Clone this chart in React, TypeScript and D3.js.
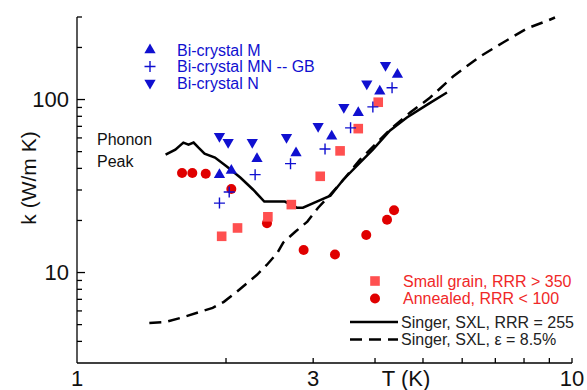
import React, { useEffect, useRef } from "react";
import * as d3 from "d3";

// --- data (T in K, k in W/m K) ---
const biM_T = [1.94, 2.05, 2.31, 2.77, 3.27, 3.7, 4.09, 4.44];
const biM_k = [36.8, 38.9, 45.5, 49.1, 61.3, 83.8, 111.7, 139.6];

const biMN_T = [1.94, 2.03, 2.29, 2.7, 3.17, 3.57, 3.96, 4.33];
const biMN_k = [25.2, 29.2, 36.8, 42.6, 51.8, 68.6, 90.7, 117];

const biN_T = [1.94, 2.02, 2.26, 2.65, 3.07, 3.46, 3.85, 4.2];
const biN_k = [61.3, 56.6, 56.6, 60.5, 70.0, 90.2, 123.3, 158];

const smallGrain_T = [1.96, 2.11, 2.43, 2.71, 3.1, 3.4, 3.7, 4.06];
const smallGrain_k = [16.2, 18.1, 21.0, 24.7, 36.0, 50.5, 67.9, 96.5];

const annealed_T = [1.63, 1.71, 1.82, 2.05, 2.42, 2.87, 3.32, 3.84, 4.23, 4.37];
const annealed_k = [37.6, 37.6, 37.2, 30.4, 19.3, 13.5, 12.7, 16.5, 20.2, 22.9];

const singerRRR_T = [
  1.51, 1.58, 1.64, 1.68, 1.72, 1.76, 1.81, 1.9, 2.01, 2.14, 2.27, 2.39, 2.63,
  2.78, 2.86, 3.05, 3.25, 3.45, 3.73, 3.96, 4.29, 4.64, 5.1, 5.59,
];
const singerRRR_k = [
  48.0, 51.3, 56.4, 54.9, 56.4, 52.7, 48.7, 46.2, 40.9, 35.3, 30.1, 25.7, 25.7,
  23.7, 23.7, 25.7, 27.8, 34.4, 43.2, 51.3, 66.2, 78.7, 93.5, 109.8,
];

const singerStrain_T = [
  1.4, 1.51, 1.62, 1.77, 1.88, 1.98, 2.09, 2.21, 2.31, 2.42, 2.54, 2.61, 2.76,
  2.92, 3.07, 3.25, 3.48, 3.73, 4.0, 4.29, 4.71, 5.17, 5.75, 6.52, 7.26, 8.11,
  8.95, 9.24,
];
const singerStrain_k = [
  5.11, 5.18, 5.47, 5.92, 6.25, 6.77, 7.63, 8.72, 9.7, 11.1, 13.0, 14.9, 17.2,
  19.7, 23.7, 28.2, 35.3, 44.9, 54.9, 67.1, 84.1, 102.7, 135.9, 177.4, 213.8,
  257.7, 286.7, 298,
];

const xMajorTicks = [1, 3, 10];
const xMinorTicks = [2, 4, 5, 6, 7, 8, 9];
const yMajorTicks = [10, 100];
const yMinorTicks = [4, 5, 6, 7, 8, 9, 20, 30, 40, 50, 60, 70, 80, 90, 200, 300];

const FONT = "'Liberation Sans', Arial, Helvetica, sans-serif";
const BLUE = "#1010d0";
const SQUARE_RED = "#ff5050";
const CIRCLE_RED = "#e00000";

const zip = (xs: number[], ys: number[]) => xs.map((x, i) => [x, ys[i]] as [number, number]);

const App: React.FC = () => {
  const svgRef = useRef<SVGSVGElement | null>(null);

  useEffect(() => {
    if (!svgRef.current) return;
    const width = 587;
    const height = 390;

    const svg = d3.select(svgRef.current);
    svg.selectAll("*").remove();
    svg.attr("width", width).attr("height", height);

    const x = d3.scaleLog().domain([1, 10]).range([77, 572]);
    const y = d3.scaleLog().domain([3, 300]).range([363, 17]);

    const [x0, x1] = x.range();
    const [y0, y1] = y.range();

    // --- axes ---
    const axes = svg.append("g").attr("stroke", "#000").attr("stroke-width", 1.3);
    axes.append("line").attr("x1", x0).attr("x2", x1).attr("y1", y0).attr("y2", y0);
    axes.append("line").attr("x1", x0).attr("x2", x0).attr("y1", y0).attr("y2", y1);

    xMajorTicks.concat(xMinorTicks).filter((t) => t !== 1).forEach((t) => {
      axes.append("line").attr("x1", x(t)).attr("x2", x(t)).attr("y1", y0).attr("y2", y0 - 5);
    });
    yMajorTicks.forEach((t) => {
      axes.append("line").attr("x1", x0).attr("x2", x0 + 8).attr("y1", y(t)).attr("y2", y(t));
    });
    yMinorTicks.forEach((t) => {
      axes.append("line").attr("x1", x0).attr("x2", x0 + 5).attr("y1", y(t)).attr("y2", y(t));
    });

    const labels = svg.append("g").style("font-family", FONT).attr("fill", "#111");
    xMajorTicks.forEach((t) => {
      labels.append("text").attr("x", x(t)).attr("y", 386).attr("text-anchor", "middle")
        .style("font-size", "22px").text(t);
    });
    yMajorTicks.forEach((t) => {
      labels.append("text").attr("x", 69).attr("y", y(t)).attr("dy", "0.36em")
        .attr("text-anchor", "end").style("font-size", "22px").text(t);
    });
    labels.append("text").attr("x", 406).attr("y", 386).attr("text-anchor", "middle")
      .style("font-size", "22px").text("T (K)");
    labels.append("text").attr("transform", "translate(36,178) rotate(-90)")
      .attr("text-anchor", "middle").style("font-size", "21px").text("k (W/m K)");

    labels.append("text").attr("x", 97).attr("y", 145).style("font-size", "16px").text("Phonon");
    labels.append("text").attr("x", 97).attr("y", 167).style("font-size", "16px").text("Peak");

    // --- lines ---
    const line = d3.line<[number, number]>().x((d) => x(d[0])).y((d) => y(d[1]));
    svg.append("path").datum(zip(singerStrain_T, singerStrain_k)).attr("d", line)
      .attr("fill", "none").attr("stroke", "#000").attr("stroke-width", 2.5)
      .attr("stroke-dasharray", "12,7");
    svg.append("path").datum(zip(singerRRR_T, singerRRR_k)).attr("d", line)
      .attr("fill", "none").attr("stroke", "#000").attr("stroke-width", 2.5);

    // --- markers ---
    const up = d3.symbol().type(d3.symbolTriangle).size(55)();
    const plusPath = "M-5.5,0H5.5M0,-5.5V5.5";

    const drawUp = (g: any, cx: number, cy: number) =>
      g.append("path").attr("d", up).attr("transform", `translate(${cx},${cy})`).attr("fill", BLUE);
    const drawDown = (g: any, cx: number, cy: number) =>
      g.append("path").attr("d", up).attr("transform", `translate(${cx},${cy}) rotate(180)`).attr("fill", BLUE);
    const drawPlus = (g: any, cx: number, cy: number) =>
      g.append("path").attr("d", plusPath).attr("transform", `translate(${cx},${cy})`)
        .attr("stroke", BLUE).attr("stroke-width", 1.4).attr("fill", "none");
    const drawSquare = (g: any, cx: number, cy: number) =>
      g.append("rect").attr("x", cx - 4.8).attr("y", cy - 4.8).attr("width", 9.6).attr("height", 9.6)
        .attr("fill", SQUARE_RED);
    const drawCircle = (g: any, cx: number, cy: number) =>
      g.append("circle").attr("cx", cx).attr("cy", cy).attr("r", 5).attr("fill", CIRCLE_RED);

    const pts = svg.append("g");
    zip(annealed_T, annealed_k).forEach(([t, k]) => drawCircle(pts, x(t), y(k)));
    zip(smallGrain_T, smallGrain_k).forEach(([t, k]) => drawSquare(pts, x(t), y(k)));
    zip(biM_T, biM_k).forEach(([t, k]) => drawUp(pts, x(t), y(k)));
    zip(biN_T, biN_k).forEach(([t, k]) => drawDown(pts, x(t), y(k)));
    zip(biMN_T, biMN_k).forEach(([t, k]) => drawPlus(pts, x(t), y(k)));

    // --- legends ---
    const leg = svg.append("g").style("font-family", FONT).style("font-size", "16px");
    const blueItems = [
      { label: "Bi-crystal M", draw: drawUp },
      { label: "Bi-crystal MN -- GB", draw: drawPlus },
      { label: "Bi-crystal N", draw: drawDown },
    ];
    blueItems.forEach((it, i) => {
      const cy = 50 + i * 16.5;
      it.draw(leg, 150, cy);
      leg.append("text").attr("x", 177).attr("y", cy).attr("dy", "0.35em")
        .attr("fill", BLUE).text(it.label);
    });

    const redItems = [
      { label: "Small grain, RRR > 350", draw: drawSquare },
      { label: "Annealed, RRR < 100", draw: drawCircle },
    ];
    redItems.forEach((it, i) => {
      const cy = 281 + i * 17.5;
      it.draw(leg, 375, cy);
      leg.append("text").attr("x", 403).attr("y", cy).attr("dy", "0.35em")
        .attr("fill", "#f02828").text(it.label);
    });

    const lineItems = [
      { label: "Singer, SXL, RRR = 255", dash: null },
      { label: "Singer, SXL, \u03B5 = 8.5%", dash: "12,7" },
    ];
    lineItems.forEach((it, i) => {
      const cy = 322 + i * 17.5;
      const l = leg.append("line").attr("x1", 350).attr("x2", 398).attr("y1", cy).attr("y2", cy)
        .attr("stroke", "#000").attr("stroke-width", 2.5);
      if (it.dash) l.attr("stroke-dasharray", it.dash);
      leg.append("text").attr("x", 401).attr("y", cy).attr("dy", "0.35em")
        .attr("fill", "#222").text(it.label);
    });
  }, []);

  return (
    <div style={{ position: "absolute", left: 0, top: 0, background: "#fff" }}>
      <svg ref={svgRef} style={{ display: "block" }}></svg>
    </div>
  );
};

export default App;
